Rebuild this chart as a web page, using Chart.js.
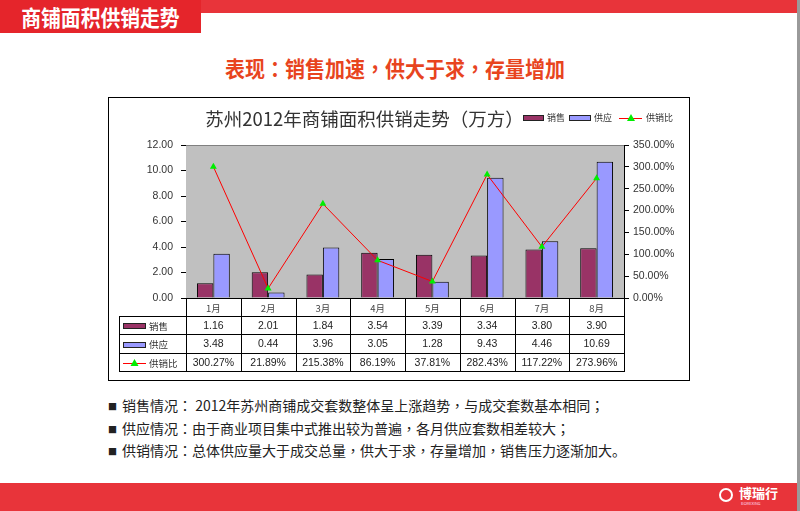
<!DOCTYPE html>
<html><head><meta charset="utf-8">
<script src="https://cdn.jsdelivr.net/npm/chart.js@4/dist/chart.umd.min.js"></script>
<style>
html,body{margin:0;padding:0}
body{width:800px;height:511px;position:relative;background:#fff;overflow:hidden;font-family:"Noto Sans CJK SC","Noto Sans",sans-serif}
.abs{position:absolute;white-space:nowrap}
.p{font-family:"Noto Sans CJK TC",sans-serif}
#topbar{left:0;top:0;width:797px;height:13px;background:#E8343A}
#hbox{left:0;top:0;width:201px;height:33px;background:#E5252B}
#htxt{left:0;top:0;width:201px;height:33px;line-height:33px;text-align:center;color:#fff;font-weight:700;font-size:22px;transform:scaleX(0.9);transform-origin:100px 0}
#rline{left:797px;top:0;width:3px;height:511px;background:#9a9a9a}
#sub{left:0;width:790px;top:54px;line-height:28px;text-align:center;color:#E8441E;font-weight:700;font-size:21.5px;transform:scaleX(0.93);transform-origin:395px 0}
#frame{left:108px;top:97px;width:582px;height:284px;border:1px solid #000;box-sizing:border-box}
#cwrap{left:108px;top:97px;width:582px;height:284px}
#ctitle{left:192px;width:345px;top:105px;line-height:26px;text-align:center;font-size:18.5px;color:#333}
.sw{height:6px;box-sizing:border-box;border:1px solid #222}
.lg{font-size:9px;color:#333;line-height:12px;top:112px}
.bul{left:108px;font-size:14px;color:#222;line-height:20px}
.sq{font-size:9px;display:inline-block;width:14px;vertical-align:1px}
#bottom{left:0;top:483px;width:797px;height:28px;background:#E8343A}
#logo{left:739px;top:484px;color:#fff;font-weight:700;font-size:13px;line-height:18px}
#logo2{left:741px;top:500px;color:#fde;font-size:4px;line-height:6px}
#icon{left:719px;top:488px;width:14px;height:14px;border:2px solid #fff;border-radius:50%;box-sizing:border-box}
</style></head><body>
<div class="abs" id="topbar"></div>
<div class="abs" id="hbox"></div>
<div class="abs" id="htxt">商铺面积供销走势</div>
<div class="abs" id="rline"></div>
<div class="abs" id="sub">表现<span class="p">：</span>销售加速<span class="p">，</span>供大于求<span class="p">，</span>存量增加</div>
<div class="abs" id="frame"></div>
<div class="abs" id="cwrap"><canvas id="c" width="582" height="284"></canvas></div>
<div class="abs" id="ctitle">苏州2012年商铺面积供销走势<span class="p">（</span>万方<span class="p">）</span></div>
<div class="abs sw" style="left:523px;top:115px;width:21px;background:#993366"></div>
<div class="abs lg" style="left:547px">销售</div>
<div class="abs sw" style="left:569px;top:115px;width:22px;background:#9999FF"></div>
<div class="abs lg" style="left:594px">供应</div>
<div class="abs" style="left:619px;top:118px;width:23px;height:1px;background:#f00"></div>
<div class="abs" style="left:627px;top:114px;width:0;height:0;border-left:4px solid transparent;border-right:4px solid transparent;border-bottom:7px solid #00ee00"></div>
<div class="abs lg" style="left:646px">供销比</div>
<div class="abs bul" style="top:395px"><span class="sq">■</span>销售情况<span class="p">：</span> 2012年苏州商铺成交套数整体呈上涨趋势<span class="p">，</span>与成交套数基本相同<span class="p">；</span></div>
<div class="abs bul" style="top:418px"><span class="sq">■</span>供应情况<span class="p">：</span>由于商业项目集中式推出较为普遍<span class="p">，</span>各月供应套数相差较大<span class="p">；</span></div>
<div class="abs bul" style="top:440px"><span class="sq">■</span>供销情况<span class="p">：</span>总体供应量大于成交总量<span class="p">，</span>供大于求<span class="p">，</span>存量增加<span class="p">，</span>销售压力逐渐加大。</div>
<div class="abs" id="bottom"></div>
<div class="abs" id="icon"></div>
<div class="abs" id="logo">博瑞行</div>
<div class="abs" id="logo2">BOREXING</div>
<script>
const months = ['1月','2月','3月','4月','5月','6月','7月','8月'];
const sales = [1.16, 2.01, 1.84, 3.54, 3.39, 3.34, 3.80, 3.90];
const supply = [3.48, 0.44, 3.96, 3.05, 1.28, 9.43, 4.46, 10.69];
const ratio = [300.27, 21.89, 215.38, 86.19, 37.81, 282.43, 117.22, 273.96];
const seriesNames = ['销售','供应','供销比'];

const NUMFONT = '10.5px "Liberation Sans", Arial, sans-serif';
const CJKFONT = '9.5px "Noto Sans CJK SC", sans-serif';

const bgPlugin = {
  id: 'bg',
  beforeDatasetsDraw(chart) {
    const {ctx, chartArea: a} = chart;
    ctx.save();
    ctx.fillStyle = '#C0C0C0';
    ctx.fillRect(a.left, a.top, a.right - a.left, a.bottom - a.top);
    ctx.strokeStyle = '#808080';
    ctx.lineWidth = 1;
    ctx.beginPath();
    ctx.moveTo(a.left, a.top + 0.5); ctx.lineTo(a.right, a.top + 0.5);
    ctx.stroke();
    ctx.restore();
  }
};

const tablePlugin = {
  id: 'dtable',
  afterDraw(chart) {
    const {ctx, chartArea: a} = chart;
    const xs = chart.scales.x;
    const step = xs.getPixelForValue(1) - xs.getPixelForValue(0);
    const x0 = Math.round(xs.getPixelForValue(0) - step / 2);
    const tLeft = 11;
    const rowH = 18.2;
    const top = Math.round(a.bottom);
    const ys = [top, top + rowH, top + 2 * rowH, top + 3 * rowH, top + 4 * rowH].map(v => Math.round(v));
    ctx.save();
    ctx.strokeStyle = '#000';
    ctx.lineWidth = 1;
    ctx.beginPath();
    ctx.moveTo(x0, ys[0] + 0.5); ctx.lineTo(x0 + step * 8, ys[0] + 0.5);
    for (let r = 1; r <= 4; r++) { ctx.moveTo(tLeft, ys[r] + 0.5); ctx.lineTo(x0 + step * 8 + 0.5, ys[r] + 0.5); }
    for (let k = 0; k <= 8; k++) {
      const x = Math.round(x0 + k * step) + 0.5;
      ctx.moveTo(x, ys[0]); ctx.lineTo(x, ys[4] + 1);
    }
    ctx.moveTo(tLeft + 0.5, ys[1]); ctx.lineTo(tLeft + 0.5, ys[4] + 1);
    ctx.stroke();

    ctx.textAlign = 'center';
    ctx.textBaseline = 'middle';
    ctx.fillStyle = '#444';
    ctx.font = CJKFONT;
    months.forEach((m, i) => ctx.fillText(m, xs.getPixelForValue(i), (ys[0] + ys[1]) / 2 + 1));
    ctx.fillStyle = '#222';
    ctx.font = NUMFONT;
    const rows = [sales.map(v => v.toFixed(2)), supply.map(v => v.toFixed(2)), ratio.map(v => v.toFixed(2) + '%')];
    rows.forEach((row, r) => {
      const cy = (ys[r + 1] + ys[r + 2]) / 2 + 1;
      row.forEach((t, i) => ctx.fillText(t, xs.getPixelForValue(i), cy));
    });
    const keyL = tLeft + 4, keyW = 23;
    ctx.textAlign = 'left';
    rows.forEach((row, r) => {
      const cy = (ys[r + 1] + ys[r + 2]) / 2;
      if (r < 2) {
        ctx.fillStyle = r === 0 ? '#993366' : '#9999FF';
        ctx.fillRect(keyL, Math.round(cy) - 2, keyW, 6);
        ctx.strokeStyle = '#222';
        ctx.strokeRect(keyL + 0.5, Math.round(cy) - 1.5, keyW - 1, 5);
      } else {
        ctx.strokeStyle = '#f00';
        ctx.beginPath(); ctx.moveTo(keyL, Math.round(cy) + 1.5); ctx.lineTo(keyL + keyW, Math.round(cy) + 1.5); ctx.stroke();
        ctx.fillStyle = '#00ee00';
        const cx = keyL + keyW / 2;
        ctx.beginPath(); ctx.moveTo(cx, cy - 3); ctx.lineTo(cx + 4, cy + 4); ctx.lineTo(cx - 4, cy + 4); ctx.closePath(); ctx.fill();
      }
      ctx.fillStyle = '#333';
      ctx.font = CJKFONT;
      ctx.fillText(seriesNames[r], keyL + keyW + 3, cy + 1);
    });
    ctx.restore();
  }
};

new Chart(document.getElementById('c'), {
  data: {
    labels: months,
    datasets: [
      { type: 'line', label: seriesNames[2], data: ratio, yAxisID: 'y1', order: 0,
        borderColor: '#ff0000', borderWidth: 1, tension: 0, fill: false,
        pointStyle: 'triangle', pointRadius: 4, pointBackgroundColor: '#00ee00', pointBorderColor: '#00ee00', pointBorderWidth: 0 },
      { type: 'bar', label: seriesNames[0], data: sales, yAxisID: 'y', order: 1,
        backgroundColor: '#993366', borderColor: '#000', borderWidth: 1,
        categoryPercentage: 0.6, barPercentage: 1 },
      { type: 'bar', label: seriesNames[1], data: supply, yAxisID: 'y', order: 1,
        backgroundColor: '#9999FF', borderColor: '#000', borderWidth: 1,
        categoryPercentage: 0.6, barPercentage: 1 }
    ]
  },
  options: {
    responsive: false,
    animation: false,
    events: [],
    layout: { padding: { top: 48, bottom: 83, left: 0, right: 0 } },
    plugins: { legend: { display: false }, title: { display: false }, tooltip: { enabled: false } },
    scales: {
      x: { display: false, offset: true },
      y: {
        position: 'left', min: 0, max: 12,
        afterFit(s) { s.width = 78; },
        ticks: { stepSize: 2, padding: 8, color: '#333', font: { family: '"Liberation Sans", Arial, sans-serif', size: 10.5 },
                 callback: v => Number(v).toFixed(2) },
        grid: { drawOnChartArea: false, drawTicks: true, tickLength: 5, color: '#000' },
        border: { display: true, color: '#000', width: 1 }
      },
      y1: {
        position: 'right', min: 0, max: 350,
        afterFit(s) { s.width = 66; },
        ticks: { stepSize: 50, padding: 4, color: '#333', font: { family: '"Liberation Sans", Arial, sans-serif', size: 10.5 },
                 callback: v => Number(v).toFixed(2) + '%' },
        grid: { drawOnChartArea: false, drawTicks: true, tickLength: 5, color: '#000' },
        border: { display: true, color: '#000', width: 1 }
      }
    }
  },
  plugins: [bgPlugin, tablePlugin]
});
</script>
</body></html>
